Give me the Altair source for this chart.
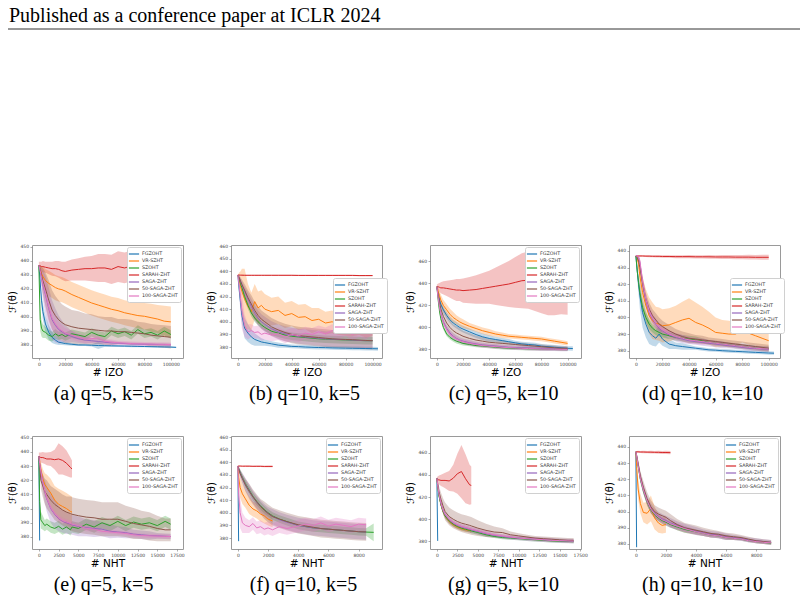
import altair as alt
import pandas as pd

SERIES = ["FGZOHT", "VR-SZHT", "SZOHT", "SARAH-ZHT", "SAGA-ZHT", "50-SAGA-ZHT", "100-SAGA-ZHT"]
COLORS = ["#1f77b4", "#ff7f0e", "#2ca02c", "#d62728", "#9467bd", "#8c564b", "#e377c2"]
HEADER = "Published as a conference paper at ICLR 2024"
Y_TITLE = "ℱ(θ)"

# checkpoints along the x axis
X_IZO = [0, 1000, 2000, 3000, 5000, 7500, 10000, 12500, 15000, 17500, 20000, 25000, 30000, 35000,
         40000, 45000, 50000, 55000, 60000, 65000, 70000, 75000, 80000, 85000, 90000, 95000, 100000, 104000]
X_NHT_LONG = [0, 100, 250, 500, 750, 1000, 1500, 2000, 2500, 3000, 3500, 4000, 4200, 5000, 6000, 7000,
              8000, 9000, 10000, 11000, 12000, 13000, 14000, 15000, 16000, 16700]
X_NHT_SHORT = [0, 50, 150, 300, 500, 750, 1000, 1250, 1500, 1750, 2000, 2300, 2750, 3250, 4000, 4500,
               5000, 5500, 6000, 6500, 7000, 7500, 8000, 8500, 9000]

TICKS_IZO = [0, 20000, 40000, 60000, 80000, 100000]
TICKS_NHT_LONG = [0, 2500, 5000, 7500, 10000, 12500, 15000, 17500]
TICKS_NHT_SHORT = [0, 2000, 4000, 6000, 8000]

# ---- (a) q=5, k=5, # IZO : mean curve and half-width of the shaded band ----
A_FG = [437, 425, 412, 404, 395, 389, 385.5, 383.5, 382, 381.5, 381, 380.5, 380, 380, 379.8, 379.6, 379.5, 379.4, 379.3, 379.2, 379.1, 379, 378.9, 378.8, 378.7, 378.6, 378.5, 378.3]
A_FG_SD = [0, 3, 5, 6, 6, 5, 4, 3, 2, 1.5, 1.2, 1, 0.8, 0.8, 0.8, 2.5, 0.8, 0.8, 0.7, 0.7, 0.7, 0.6, 0.6, 0.6, 0.6, 0.5, 0.5, 0.5]
A_VR = [437, 434, 431, 429, 426, 424, 422.5, 421, 420, 419.5, 418.5, 416, 414, 412, 410, 408.5, 407, 405.5, 404.5, 403, 402, 401, 400.5, 399.5, 398.5, 397, 396.5]
A_VR_SD = [0, 3, 5, 7, 8, 9, 9, 9, 9, 9, 9, 9, 9, 9, 9, 9, 9, 9, 9, 9, 9, 9, 9.5, 10, 10, 11, 11]
A_SZ = [437, 398, 392, 390, 389, 387, 386, 388, 386.5, 387.5, 386, 388, 387, 386, 389, 387, 386, 390, 388, 389.5, 387, 391, 388, 389, 387, 390, 387.5]
A_SZ_SD = [0, 8, 6, 5, 4, 4, 3.5, 3.5, 3, 3, 3, 3, 3, 3, 3, 3, 3, 3, 3, 3, 3, 3, 3, 3, 3, 3, 3]
A_SARAH = [436.5, 436.5, 436, 436, 435.5, 435, 434.5, 434.5, 434, 433, 432.5, 433.5, 434, 434.5, 434.5, 435, 435, 434, 436, 435, 436.5, 434.5, 434, 434, 433, 433.5, 433.5]
A_SARAH_SD = [3, 3, 3.5, 4, 4, 4.5, 5, 5.5, 6, 6.5, 7, 7.5, 8, 8.5, 9, 10, 10, 10.5, 11, 11, 11, 11.5, 12, 12, 12, 12, 12]
A_SAGA = [437, 433, 428, 423, 416, 406, 398, 394, 391, 389.5, 388, 386, 384.5, 383.5, 383, 382.5, 382, 381.5, 381.3, 381, 380.8, 380.6, 380.5, 380.4, 380.3, 380.2, 380.1]
A_SAGA_SD = [0, 3, 6, 10, 14, 15, 14, 12, 10, 8, 6, 4, 3, 2.5, 2, 2, 1.5, 1.5, 1, 1, 1, 1, 1, 1, 1, 1, 1]
A_S50 = [437, 434, 430, 426, 420, 412, 405, 401, 398, 396, 394.5, 393, 392, 391.5, 391, 390.5, 390, 390, 389.5, 389.5, 389, 388.5, 388, 387, 386.5, 386, 385.5]
A_S50_SD = [0, 3, 6, 9, 12, 14, 14, 14, 14, 13, 13, 12, 12, 11, 11, 10, 10, 10, 9, 9, 9, 8, 8, 8, 8, 8, 8]
A_S100 = [437, 433, 428, 424, 417, 407, 399, 395, 392, 390, 388.5, 387, 385.5, 384, 384.5, 385, 382.5, 382, 381.5, 381.3, 381, 380.8, 380.7, 380.6, 380.5, 380.4, 380.3]
A_S100_SD = [0, 2, 5, 8, 10, 10, 8, 6, 5, 4, 3.5, 3, 3, 3, 3, 3, 2, 2, 1.5, 1.5, 1.5, 1.5, 1.5, 1.5, 1.5, 1.5, 1.5]

# ---- (b) q=10, k=5, # IZO ----
B_FG = [437, 425, 415, 405, 395, 391, 388, 386, 385, 384, 383.5, 382.5, 381.5, 381, 380.5, 380.3, 380, 379.8, 379.6, 379.5, 379.3, 379.2, 379.1, 379, 378.9, 378.8, 378.7, 378.6]
B_FG_SD = [0, 4, 6, 7, 8, 7, 6, 5, 4, 3, 2.5, 2, 2, 1.5, 1.5, 1.5, 1.5, 1.5, 1.5, 1.5, 1.5, 1.5, 1.5, 1.5, 1.5, 1.5, 1.5, 1.5]
B_VR = [437, 433, 428, 424, 418, 412, 408, 416, 411, 413, 410, 408, 409, 405, 406.5, 403.5, 404, 401, 402, 399, 400, 397.5, 397, 395.5, 396.5, 394.5, 395.5]
B_VR_SD = [0, 6, 12, 18, 24, 18, 15, 14, 13, 12, 12, 11, 11, 10, 10, 10, 10, 10, 9, 9, 9, 8, 8, 7, 7, 7, 7]
B_SZ = [437, 434, 430, 427, 420, 413, 407, 403, 400, 397.5, 395.5, 392.5, 391, 389.5, 388.5, 388, 387.5, 387, 386.5, 386.2, 386, 385.8, 385.6, 385.4, 385.2, 385, 385]
B_SZ_SD = [0, 1, 2, 2.5, 3, 3, 3, 3, 3, 3, 3, 3, 3, 3, 3, 3, 3, 3, 3, 3, 3, 3, 3, 3, 3, 3, 3]
B_SARAH = [437, 437, 436.9, 436.9, 436.8, 436.8, 436.8, 436.8, 436.8, 436.8, 436.8, 436.8, 436.8, 436.8, 436.8, 436.7, 436.7, 436.7, 436.7, 436.7, 436.7, 436.7, 436.7, 436.7, 436.6, 436.6, 436.6]
B_SARAH_SD = [0.2, 0.3, 0.3, 0.4, 0.4, 0.4, 0.5, 0.5, 0.5, 0.5, 0.5, 0.5, 0.5, 0.5, 0.5, 0.5, 0.5, 0.5, 0.5, 0.5, 0.5, 0.5, 0.5, 0.5, 0.5, 0.5, 0.5]
B_SAGA = [437, 435, 432, 429, 424, 418, 412, 407, 403, 400, 398, 394.5, 392, 390.5, 389.5, 388.5, 388, 387.5, 387, 386.5, 386.2, 386, 385.8, 385.5, 385.2, 385, 385]
B_SAGA_SD = [0, 1, 2, 3, 4, 5, 6, 6, 6, 6, 6, 6, 6, 6, 6, 6, 6, 6, 6, 6, 6, 6, 6, 6, 6, 6, 6]
B_S50 = [437, 435, 432, 429.5, 425, 419, 414, 409, 405, 402, 400, 396, 393.5, 391.5, 390, 389, 388.5, 388, 387.5, 387, 386.5, 386.2, 386, 385.8, 385.5, 385.2, 385]
B_S50_SD = [0, 2, 3, 4, 5, 6, 7, 7, 7, 7, 7, 7, 7, 7, 7, 7, 7, 7, 7, 7, 7, 7, 7, 7, 7, 7, 7]
B_S100 = [437, 428, 418, 408, 397, 392, 393, 391.5, 392, 390, 391, 389.5, 390.5, 388, 390, 389, 391, 390, 392, 390.5, 393, 391, 394, 390, 393, 391, 395]
B_S100_SD = [0, 6, 12, 14, 9, 6, 5, 5, 5, 5, 5, 5, 5, 5, 5, 5, 5, 5, 5, 5, 5, 5, 5, 5, 5, 5, 5]

# ---- (c) q=5, k=10, # IZO ----
C_FG = [437, 430, 425, 421, 416, 411, 407, 404, 402, 400, 398.5, 396, 393.5, 391.5, 390, 389, 388, 387, 386, 385, 384.5, 384, 383, 382.5, 382, 381.5, 381, 380.8]
C_FG_SD = [0, 2, 3, 3, 3, 3, 3, 3, 3, 3, 3, 3, 3, 3, 3, 2.5, 2.5, 2.5, 2, 2, 2, 2, 2, 2, 2, 2, 2, 2]
C_VR = [437, 433, 429, 425, 420, 416, 412, 409, 407, 405, 403.5, 401, 399, 397, 395.5, 394, 393, 392, 391.5, 391, 390.5, 390, 389.5, 388.5, 387.5, 386.5, 385.5]
C_VR_SD = [0, 3, 4, 5, 5, 5, 5, 5, 4, 4, 4, 3, 3, 3, 3, 2.5, 2.5, 2, 2, 2, 2, 2, 2, 2, 2, 2, 2]
C_SZ = [437, 425, 415, 408, 400, 394, 391, 389, 387.5, 386.5, 385.5, 384.5, 383.5, 383, 382.5, 382, 381.5, 381.2, 381, 380.8, 380.6, 380.5, 380.4, 380.3, 380.2, 380.1, 380]
C_SZ_SD = [0, 2, 2, 2, 2, 2, 2, 2, 2, 2, 2, 1.5, 1.5, 1.5, 1.5, 1.5, 1.5, 1.5, 1.5, 1.5, 1.5, 1.5, 1.5, 1.5, 1.5, 1.5, 1.5]
C_SARAH = [437, 437, 436.5, 436, 436, 435.5, 435, 434.5, 434, 434, 433.5, 434, 434.5, 435.5, 436.5, 437.5, 438.5, 439.5, 441, 442.5, 443, 441, 438, 435, 433, 432, 430.5]
C_SARAH_SD = [2, 3, 4, 5, 6, 7, 8, 9, 10, 10, 11, 12, 13, 14, 15, 17, 19, 21, 23, 25, 26, 26, 25, 24, 22, 20, 19]
C_SAGA = [437, 428, 420, 413, 405, 399, 395, 392, 390, 388.5, 387.5, 386, 385, 384, 383.5, 383, 382.5, 382, 381.8, 381.5, 381.3, 381, 380.8, 380.6, 380.5, 380.4, 380.3]
C_SAGA_SD = [0, 2, 3, 3, 3, 3, 3, 3, 3, 2.5, 2.5, 2.5, 2, 2, 2, 2, 2, 2, 2, 2, 2, 2, 2, 2, 2, 2, 2]
C_S50 = [437, 430, 423, 417, 410, 404, 400, 397, 395, 393.5, 392, 390, 388.5, 387.5, 386.5, 386, 385.5, 385, 384.5, 384, 383.5, 383, 382.5, 382, 381.5, 381, 381]
C_S50_SD = [0, 3, 5, 6, 7, 7, 7, 6, 6, 6, 5, 5, 4, 4, 3, 3, 3, 2, 2, 2, 2, 2, 2, 2, 2, 2, 2]
C_S100 = [437, 427, 419, 412, 404, 398, 394, 391.5, 389.5, 388, 387, 385.5, 384.5, 383.5, 383, 382.5, 382, 381.6, 381.3, 381, 380.8, 380.6, 380.4, 380.3, 380.2, 380.1, 380]
C_S100_SD = [0, 2, 2.5, 2.5, 2.5, 2.5, 2.5, 2.5, 2, 2, 2, 2, 2, 2, 2, 2, 1.5, 1.5, 1.5, 1.5, 1.5, 1.5, 1.5, 1.5, 1.5, 1.5, 1.5]

# ---- (d) q=10, k=10, # IZO ----
D_FG = [437, 428, 420, 413, 403, 396, 391, 389, 387.5, 390, 387, 384, 383, 382.5, 382, 381.5, 381, 380.5, 380.3, 380, 379.8, 379.6, 379.4, 379.2, 379, 378.8, 378.6, 378.5]
D_FG_SD = [0, 4, 6, 8, 9, 8, 7, 6, 5, 5, 4, 3, 2, 2, 1.5, 1, 1, 1, 1, 1, 1, 1, 1, 1, 1, 1, 1, 1]
D_VR = [437, 436, 432, 425, 415, 407, 401, 398, 396.5, 396, 395, 395.5, 397, 398.5, 399.5, 397, 395.5, 393.5, 391, 390.5, 390, 390, 392, 390.5, 389, 387.5, 386]
D_VR_SD = [0, 1, 3, 6, 9, 10, 11, 11, 10, 10, 10, 10, 10, 11, 12, 12, 11, 10, 9, 8, 8, 7, 7, 7, 6, 6, 5]
D_SZ = [437, 428, 421, 415, 406, 400, 396, 393.5, 392, 391, 390, 389, 388, 387.5, 387, 386.5, 386, 385, 384.5, 384, 383.5, 383, 382.5, 382, 381.5, 381.2, 381]
D_SZ_SD = [0, 2, 3, 3, 3, 3, 3, 2.5, 2.5, 2.5, 2, 2, 2, 2, 2, 2, 1.5, 1.5, 1.5, 1.5, 1.5, 1.5, 1.5, 1.5, 1.5, 1.5, 1.5]
D_SARAH = [437, 437, 437, 437, 437, 436.9, 436.9, 436.8, 436.8, 436.8, 436.7, 436.7, 436.6, 436.6, 436.6, 436.5, 436.5, 436.5, 436.4, 436.4, 436.4, 436.3, 436.3, 436.3, 436.2, 436.2, 436.2]
D_SARAH_SD = [0.3, 0.3, 0.4, 0.4, 0.5, 0.5, 0.6, 0.6, 0.7, 0.7, 0.8, 0.8, 0.9, 0.9, 1, 1, 1, 1.1, 1.1, 1.2, 1.2, 1.3, 1.3, 1.4, 1.4, 1.5, 1.5]
D_SAGA = [437, 437, 436, 433, 420, 410, 403, 399, 396, 393.5, 392, 389.5, 388, 387, 386, 385.5, 385, 384.5, 384, 383.5, 383, 382.5, 382, 381.5, 381.3, 381, 380.8]
D_SAGA_SD = [0, 0, 1, 2, 3, 3, 3, 3, 3, 3, 3, 2.5, 2.5, 2.5, 2, 2, 2, 2, 2, 2, 1.5, 1.5, 1.5, 1.5, 1.5, 1.5, 1.5]
D_S50 = [437, 436, 434, 430, 421, 411, 405, 401, 398.5, 396, 394.5, 392, 390, 388.5, 387.5, 387, 386.5, 386, 385.5, 385, 384.5, 384, 383.5, 383, 382.5, 382, 381.5]
D_S50_SD = [0, 1, 2, 3, 4, 4, 4, 4, 4, 4, 3.5, 3.5, 3, 3, 3, 2.5, 2.5, 2, 2, 2, 2, 2, 2, 2, 2, 2, 2]
D_S100 = [437, 437, 436.5, 434, 422, 411, 404, 399.5, 396.5, 394, 392.5, 390, 388.5, 387.5, 386.5, 386, 385.5, 385, 384.5, 384, 383.5, 383, 382.5, 382, 381.5, 381.2, 381]
D_S100_SD = [0, 0, 1, 2, 3, 3, 3, 3, 3, 2.5, 2.5, 2, 2, 2, 2, 2, 2, 1.5, 1.5, 1.5, 1.5, 1.5, 1.5, 1.5, 1.5, 1.5, 1.5]

# ---- (e) q=5, k=5, # NHT ----
E_FG = [437, 377.5]
E_FG_SD = [0, 1]
E_VR = [437, 433, 428, 421, 417, 415, 411, 406, 403, 401.5, 400, 398, 397.5]
E_VR_SD = [0, 3, 5, 7, 8, 9, 10, 10, 11, 11, 11, 11, 11]
E_SZ = [437, 405, 392, 390, 388, 389, 387, 386, 387.5, 385.5, 387, 385, 387, 386, 389, 387, 390, 388, 391, 388, 390.5, 389, 390, 388, 391, 389]
E_SZ_SD = [0, 8, 6, 5, 4, 4, 4, 4, 4, 4, 4, 4, 4, 4, 4, 4, 4, 4, 4, 4, 4, 4, 4, 4, 4, 4]
E_SARAH = [436.5, 436.5, 436, 436, 435.5, 435, 435, 434.5, 435, 434, 432, 429, 428]
E_SARAH_SD = [3, 3, 3.5, 4, 4, 4.5, 5, 7, 11, 10, 9, 7, 6]
E_SAGA = [437, 432, 426, 418, 412, 407, 400, 396, 393, 391, 390, 389, 388.5, 387.5, 386.5, 386, 385.5, 384, 383.5, 383, 382, 381.5, 381, 380.8, 380.5, 380.3]
E_SAGA_SD = [0, 2, 4, 6, 8, 9, 10, 10, 9, 8, 8, 7, 7, 7, 6, 6, 5, 5, 4, 4, 3, 3, 3, 2, 2, 2]
E_S50 = [437, 430, 420, 416, 412, 410, 406, 403, 401, 399, 397.5, 396.5, 396, 395, 394, 393.5, 392.5, 392.5, 392.5, 391, 389.5, 388.5, 387.5, 386, 385, 385]
E_S50_SD = [0, 4, 6, 8, 9, 10, 10, 11, 11, 11, 11, 12, 12, 12, 12, 12, 12, 12, 12, 11, 11, 10, 10, 9, 8, 8]
E_S100 = [437, 432, 426.5, 418.5, 412.5, 407.5, 400.5, 396.5, 393.5, 391.5, 390.5, 389.5, 389, 388, 386, 385.5, 384, 383.5, 383, 382.5, 381.5, 381, 380.8, 380.6, 380.4, 380.3]
E_S100_SD = [0, 1.5, 2, 2, 2, 2, 2, 2, 2, 2, 2, 2, 2, 2, 2, 2, 1.5, 1.5, 1.5, 1.5, 1.5, 1.5, 1.5, 1.5, 1.5, 1.5]

# ---- (f) q=10, k=5, # NHT ----
F_FG = [437, 377.5]
F_FG_SD = [0, 1]
F_VR = [437, 428, 420, 415, 411, 406, 403, 401.5, 399, 397.5, 395, 393.5]
F_VR_SD = [0, 6, 8, 8, 7, 7, 6, 6, 6, 6, 5, 5]
F_SZ = [437, 435, 432, 428, 423, 418, 413, 409, 405.5, 402.5, 400, 397.5, 395, 393, 390, 389, 388, 387.5, 387, 386.5, 386, 385.5, 385, 384.7, 384.5]
F_SZ_SD = [0, 1, 2, 2, 3, 3, 3, 3, 3, 3, 3, 3, 3, 3, 3, 3, 3, 3, 3, 3, 3, 3, 3, 3, 7]
F_SARAH = [437, 437, 437, 436.9, 436.9, 436.9, 436.8, 436.8, 436.8, 436.7, 436.7, 436.7]
F_SARAH_SD = [0.3, 0.3, 0.4, 0.4, 0.5, 0.5, 0.5, 0.6, 0.6, 0.6, 0.7, 0.7]
F_SAGA = [437, 435, 431.5, 427.5, 422.5, 417.5, 412.5, 408.5, 405, 402, 399.5, 397, 394.5, 392.5, 390, 389, 388, 387.5, 387, 386.5, 386, 385.5, 385, 384.7]
F_SAGA_SD = [0, 2, 3, 4, 5, 5, 5, 5, 5, 5, 5, 6, 6, 6, 6, 6, 6, 6, 6, 6, 6, 6, 6, 6]
F_S50 = [437, 435, 431, 427, 422, 417, 412.5, 408.5, 405, 402, 399.5, 397, 395, 393, 390.5, 389.5, 388.5, 387.5, 387, 386.5, 386, 385.5, 385, 384.8]
F_S50_SD = [0, 2, 3, 4, 5, 6, 6, 6, 6, 7, 7, 7, 7, 7, 7, 7, 7, 7, 7, 7, 7, 7, 7, 7]
F_S100 = [437, 415, 400, 392, 390, 389, 391.5, 388, 389, 387, 388, 386.5, 389, 387.5, 389.5, 391, 390, 392, 389.5, 391, 390, 389, 391, 390.5]
F_S100_SD = [0, 10, 12, 8, 6, 5, 5, 5, 5, 5, 5, 5, 5, 5, 5, 5, 5, 5, 5, 5, 5, 5, 5, 5]

# ---- (g) q=5, k=10, # NHT ----
G_FG = [437, 380.5]
G_FG_SD = [0, 1]
G_VR = [437, 430, 422, 413, 407, 403, 398, 395, 393, 391.5, 390.5, 390, 389.5]
G_VR_SD = [0, 1, 2, 2, 2, 2, 2, 2, 2, 2, 2, 2, 2]
G_SZ = [437, 430, 421, 413, 407, 403, 398.5, 395.5, 393.5, 392, 391, 390, 389.5, 388, 386, 384.5, 383.5, 383, 382.5, 382, 381.5, 381, 380.5, 380.3, 380, 379.8]
G_SZ_SD = [0, 1.5, 2, 2, 2, 2, 2, 2, 2, 2, 2, 2, 2, 2, 2, 1.5, 1.5, 1.5, 1.5, 1.5, 1.5, 1.5, 1.5, 1.5, 1.5, 1.5]
G_SARAH = [436, 435.5, 435.5, 435, 435, 435, 434.5, 437, 441, 443, 436.5, 431, 430.5]
G_SARAH_SD = [2, 3, 4, 5, 6, 7, 9, 12, 18, 24, 22, 18, 17]
G_SAGA = [437, 431, 423, 414, 408, 404, 399.5, 396.5, 394.5, 393, 392, 391, 390.5, 389, 387, 385.5, 384.5, 383.5, 383, 382.5, 382, 381.5, 381, 380.7, 380.4, 380.2]
G_SAGA_SD = [0, 2, 2.5, 2.5, 2.5, 2.5, 2.5, 2.5, 2.5, 2.5, 2.5, 2.5, 2.5, 2.5, 2.5, 2, 2, 2, 2, 2, 2, 2, 2, 2, 2, 2]
G_S50 = [437, 432, 425, 418, 412, 407, 402.5, 400, 398, 396.5, 395.5, 394.5, 394, 392, 390, 388.5, 388, 386, 385, 384, 383, 382.5, 382, 381.5, 381, 381]
G_S50_SD = [0, 3, 5, 6, 7, 8, 8, 8, 8, 8, 8, 8, 8, 7, 6, 5, 4, 3, 2.5, 2, 2, 2, 2, 2, 2, 2]
G_S100 = [437, 431, 423.5, 414.5, 408.5, 404.5, 400, 397, 395, 393.5, 392.5, 391.5, 391, 389.5, 387.5, 386, 385, 384, 383, 382.5, 382, 381.5, 381, 380.8, 380.5, 380.3]
G_S100_SD = [0, 1.5, 2, 2, 2, 2, 2, 2, 2, 2, 2, 2, 2, 2, 2, 1.5, 1.5, 1.5, 1.5, 1.5, 1.5, 1.5, 1.5, 1.5, 1.5, 1.5]

# ---- (h) q=10, k=10, # NHT ----
H_FG = [437, 378]
H_FG_SD = [0, 1]
H_VR = [437, 428, 414, 405, 399.5, 399, 402, 396, 393, 391.5, 392]
H_VR_SD = [0, 5, 6, 6, 6, 7, 8, 7, 6, 5, 5]
H_SZ = [437, 434, 428, 420, 413, 406, 401, 398, 396, 394.5, 393.5, 392, 390.5, 389, 387.5, 386.5, 385.5, 385, 384, 383.5, 383, 382, 381.5, 381, 380.5]
H_SZ_SD = [0, 1, 1.5, 2, 2, 2, 2, 2, 2, 2, 2, 2, 2, 2, 1.5, 1.5, 1.5, 1.5, 1.5, 1, 1, 1, 1, 1, 1]
H_SARAH = [437, 437, 437, 436.9, 436.9, 436.8, 436.8, 436.7, 436.7, 436.6, 436.6, 436.5]
H_SARAH_SD = [0.5, 0.5, 0.6, 0.6, 0.7, 0.7, 0.8, 0.8, 0.9, 0.9, 1, 1]
H_SAGA = [437, 434.5, 429, 421, 414, 407, 402, 399, 397, 395.5, 394.5, 393, 391.5, 390, 388, 387, 386, 385.5, 384.5, 384, 383.5, 382.5, 382, 381.5, 381]
H_SAGA_SD = [0, 1, 2, 3, 3, 3, 3, 3, 3, 3, 3, 3, 2.5, 2.5, 2.5, 2, 2, 2, 2, 1.5, 1.5, 1.5, 1.5, 1.5, 1.5]
H_S50 = [437, 435, 430, 422, 415, 408, 403, 400, 398.5, 397.5, 396.5, 394.5, 392, 390, 388.5, 387.5, 386.5, 386, 385, 384.5, 384, 383, 382, 381.5, 381]
H_S50_SD = [0, 1, 2, 3, 4, 4, 4, 4, 4, 4, 4, 4, 3.5, 3, 3, 2.5, 2.5, 2, 2, 2, 1.5, 1.5, 1.5, 1.5, 1.5]
H_S100 = [437, 434.5, 428.5, 420.5, 413.5, 406.5, 401.5, 398.5, 396.5, 395, 394, 392.5, 391, 389.5, 387.5, 386.5, 385.5, 385, 384, 383.5, 383, 382, 381.5, 381, 380.7]
H_S100_SD = [0, 1, 1.5, 2, 2, 2, 2, 2, 2, 2, 2, 2, 2, 2, 1.5, 1.5, 1.5, 1.5, 1.5, 1, 1, 1, 1, 1, 1]

PANELS = [
    dict(caption="(a) q=5, k=5", xlabel="# IZO", xs=X_IZO, xticks=TICKS_IZO,
         xdom=[-5200, 109200], ydom=[370.7, 451.4], yticks=[380, 390, 400, 410, 420, 430, 440, 450],
         legend="top-right", dx=-4,
         data=[(A_FG, A_FG_SD), (A_VR, A_VR_SD), (A_SZ, A_SZ_SD), (A_SARAH, A_SARAH_SD),
               (A_SAGA, A_SAGA_SD), (A_S50, A_S50_SD), (A_S100, A_S100_SD)]),
    dict(caption="(b) q=10, k=5", xlabel="# IZO", xs=X_IZO, xticks=TICKS_IZO,
         xdom=[-5100, 107000], ydom=[371.3, 460.8], yticks=[380, 390, 400, 410, 420, 430, 440, 450, 460],
         legend=(102, 33), dx=-2,
         data=[(B_FG, B_FG_SD), (B_VR, B_VR_SD), (B_SZ, B_SZ_SD), (B_SARAH, B_SARAH_SD),
               (B_SAGA, B_SAGA_SD), (B_S50, B_S50_SD), (B_S100, B_S100_SD)]),
    dict(caption="(c) q=5, k=10", xlabel="# IZO", xs=X_IZO, xticks=TICKS_IZO,
         xdom=[-5250, 110250], ydom=[372.2, 475.0], yticks=[380, 400, 420, 440, 460],
         legend="top-right", dx=-2,
         data=[(C_FG, C_FG_SD), (C_VR, C_VR_SD), (C_SZ, C_SZ_SD), (C_SARAH, C_SARAH_SD),
               (C_SAGA, C_SAGA_SD), (C_S50, C_S50_SD), (C_S100, C_S100_SD)]),
    dict(caption="(d) q=10, k=10", xlabel="# IZO", xs=X_IZO, xticks=TICKS_IZO,
         xdom=[-5200, 108500], ydom=[375.6, 443.6], yticks=[380, 390, 400, 410, 420, 430, 440],
         legend=(101, 33), dx=-2,
         data=[(D_FG, D_FG_SD), (D_VR, D_VR_SD), (D_SZ, D_SZ_SD), (D_SARAH, D_SARAH_SD),
               (D_SAGA, D_SAGA_SD), (D_S50, D_S50_SD), (D_S100, D_S100_SD)]),
    dict(caption="(e) q=5, k=5", xlabel="# NHT", xs=X_NHT_LONG, xticks=TICKS_NHT_LONG,
         xdom=[-870, 18260], ydom=[371.5, 451.2], yticks=[380, 390, 400, 410, 420, 430, 440, 450],
         legend="top-right", dx=-4,
         data=[(E_FG, E_FG_SD), (E_VR, E_VR_SD), (E_SZ, E_SZ_SD), (E_SARAH, E_SARAH_SD),
               (E_SAGA, E_SAGA_SD), (E_S50, E_S50_SD), (E_S100, E_S100_SD)]),
    dict(caption="(f) q=10, k=5", xlabel="# NHT", xs=X_NHT_SHORT, xticks=TICKS_NHT_SHORT,
         xdom=[-455, 9550], ydom=[371.3, 460.8], yticks=[380, 390, 400, 410, 420, 430, 440, 450, 460],
         legend="top-right", dx=-3,
         data=[(F_FG, F_FG_SD), (F_VR, F_VR_SD), (F_SZ, F_SZ_SD), (F_SARAH, F_SARAH_SD),
               (F_SAGA, F_SAGA_SD), (F_S50, F_S50_SD), (F_S100, F_S100_SD)]),
    dict(caption="(g) q=5, k=10", xlabel="# NHT", xs=X_NHT_LONG, xticks=TICKS_NHT_LONG,
         xdom=[-840, 17600], ydom=[373.2, 475.0], yticks=[380, 400, 420, 440, 460],
         legend="top-right", dx=-2,
         data=[(G_FG, G_FG_SD), (G_VR, G_VR_SD), (G_SZ, G_SZ_SD), (G_SARAH, G_SARAH_SD),
               (G_SAGA, G_SAGA_SD), (G_S50, G_S50_SD), (G_S100, G_S100_SD)]),
    dict(caption="(h) q=10, k=10", xlabel="# NHT", xs=X_NHT_SHORT, xticks=TICKS_NHT_SHORT,
         xdom=[-457, 9590], ydom=[376.9, 446.8], yticks=[380, 390, 400, 410, 420, 430, 440],
         legend="top-right", dx=-2,
         data=[(H_FG, H_FG_SD), (H_VR, H_VR_SD), (H_SZ, H_SZ_SD), (H_SARAH, H_SARAH_SD),
               (H_SAGA, H_SAGA_SD), (H_S50, H_S50_SD), (H_S100, H_S100_SD)]),
]

PANEL_W, PANEL_H = 151, 113

LEGEND_STYLE = dict(
    labelFont="DejaVu Sans", labelFontSize=4.8, labelColor="#333333",
    symbolType="M-1.7,0L1.7,0", symbolSize=36, symbolStrokeWidth=1.2, labelOffset=4,
    rowPadding=0, padding=3, strokeColor="#d0d0d0", fillColor="white", cornerRadius=2,
    labelLimit=120,
)


def build_panel(p, with_header=False):
    rows = []
    for name, (ys, sds) in zip(SERIES, p["data"]):
        for x, y, s in zip(p["xs"], ys, sds):
            rows.append({"x": x, "series": name, "y": y, "lo": y - s, "hi": y + s})
    df = pd.DataFrame(rows)

    xscale = alt.Scale(domain=p["xdom"], nice=False, zero=False)
    yscale = alt.Scale(domain=p["ydom"], nice=False, zero=False)
    xaxis = alt.Axis(values=p["xticks"], format="d", title=p["xlabel"], titleFontSize=10.5,
                     titlePadding=1.5, labelPadding=1)
    yaxis = alt.Axis(values=p["yticks"], format="d", title=Y_TITLE, titleFontSize=10,
                     titlePadding=2.5, labelPadding=1.5)
    cscale = alt.Scale(domain=SERIES, range=COLORS)
    if p["legend"] == "top-right":
        legend = alt.Legend(orient="top-right", offset=2, **LEGEND_STYLE)
    else:
        lx, ly = p["legend"]
        legend = alt.Legend(orient="none", legendX=lx, legendY=ly, **LEGEND_STYLE)

    base = alt.Chart(df)
    # shaded spread around each curve, one constant-colour layer per method
    layers = []
    for name, col in zip(SERIES, COLORS):
        layers.append(
            base.transform_filter(alt.datum.series == name).mark_area(
                opacity=0.28, clip=True, color=col
            ).encode(
                x=alt.X("x:Q", scale=xscale, axis=xaxis),
                y=alt.Y("lo:Q", scale=yscale, axis=yaxis, stack=False),
                y2="hi:Q",
            )
        )
    # mean curves, carrying the legend
    layers.append(
        base.mark_line(strokeWidth=1, clip=True).encode(
            x=alt.X("x:Q", scale=xscale, axis=xaxis),
            y=alt.Y("y:Q", scale=yscale, axis=yaxis),
            stroke=alt.Stroke("series:N", scale=cscale, legend=legend, title=""),
        )
    )
    if with_header:
        header_text = alt.Chart(pd.DataFrame({"t": [HEADER]})).mark_text(
            align="left", baseline="alphabetic", font="Liberation Serif", fontSize=20, color="black"
        ).encode(text="t:N", x=alt.value(-23), y=alt.value(-223))
        header_rule = alt.Chart(pd.DataFrame({"t": [HEADER]})).mark_rule(
            color="#333333", strokeWidth=1
        ).encode(x=alt.value(-24), x2=alt.value(768), y=alt.value(-216))
        layers += [header_text, header_rule]
    return alt.layer(*layers).properties(
        width=PANEL_W, height=PANEL_H,
        title=alt.TitleParams(p["caption"], orient="bottom", font="Liberation Serif", fontSize=20,
                              fontWeight="normal", color="black", offset=6, dx=p["dx"], anchor="middle"),
    )


panels = [build_panel(p, with_header=(i == 0)) for i, p in enumerate(PANELS)]

chart = alt.concat(
    *panels, columns=4, spacing={"row": 78, "column": 48}, bounds="flush"
).resolve_scale(stroke="independent").resolve_legend(
    stroke="independent"
).properties(
    padding={"left": 6, "top": 5, "right": 0, "bottom": 0},
    background="white",
).configure_view(
    stroke="#9a9a9a", strokeWidth=1
).configure_axis(
    grid=False, domain=False, labelFont="DejaVu Sans", labelFontSize=4.5, labelColor="#444444",
    tickSize=2, tickColor="#777777", tickWidth=0.6, titleFont="DejaVu Sans", titleFontWeight="normal",
    titleColor="black", labelOverlap=False, labelFlush=False,
)

chart.save("out.html", embed_options={"renderer": "svg", "actions": False})
